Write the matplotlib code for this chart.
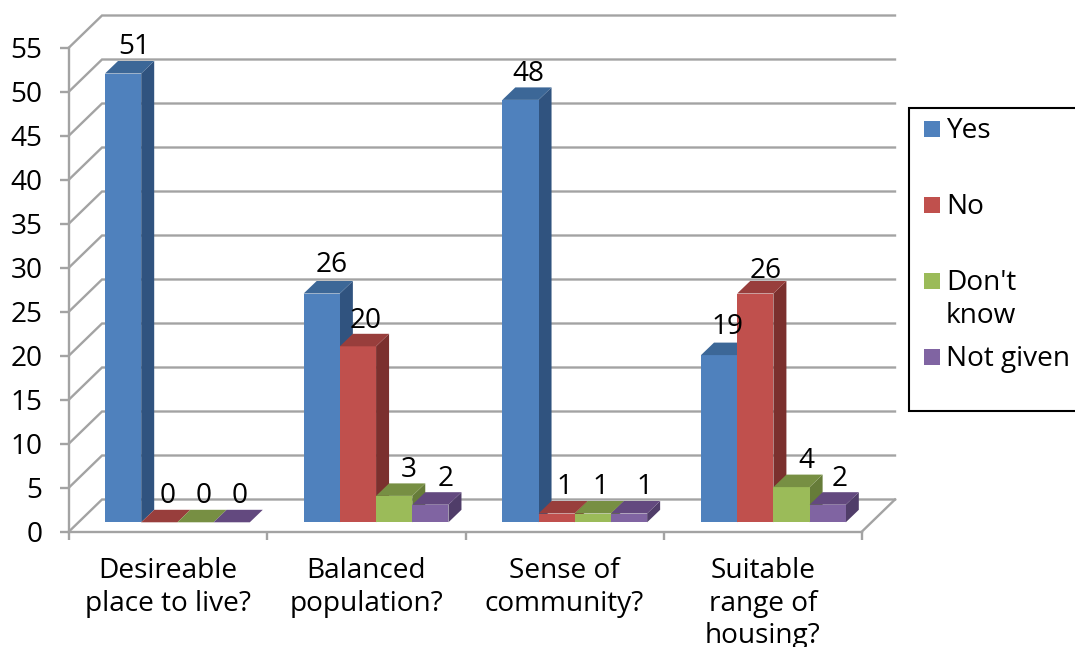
import matplotlib
matplotlib.use("Agg")
import matplotlib.pyplot as plt
from matplotlib.patches import Polygon, Rectangle

categories = ["Desireable\nplace to live?", "Balanced\npopulation?", "Sense of\ncommunity?", "Suitable\nrange of\nhousing?"]
series_names = ["Yes", "No", "Don't\nknow", "Not given"]
yes = [51, 26, 48, 19]
no = [0, 20, 1, 26]
dont_know = [0, 3, 1, 4]
not_given = [0, 2, 1, 2]
y_ticks = list(range(0, 60, 5))

front_colors = ["#4F81BD", "#C0504D", "#9BBB59", "#8064A2"]
top_colors = ["#3C6797", "#983E3C", "#778F43", "#63497F"]
side_colors = ["#30537F", "#7B302E", "#667C39", "#503D69"]
grid = "#A3A3A3"
FS = 20.2
plt.rcParams["font.family"] = ["Open Sans", "DejaVu Sans"]

# per-label pixel nudges of the value labels (group, series)
nudge_x = [[3, 0, 0, 0], [2, 0, 7, 7], [0, 0, 0, 7], [0, 2, 7, 4]]
nudge_y = [[0, 0, 0, 0], [-3, 1, 0, 0], [0, 0, 0, 0], [-2, 3, 0, 0]]

W, H = 1075, 647
fig = plt.figure(figsize=(W / 100, H / 100), dpi=100)
L, R, T, B = 69, 862, 47.5, 531.5
ax = fig.add_axes([L / W, 1 - B / H, (R - L) / W, (B - T) / H])
ax.set_xlim(0, 4)
ax.set_ylim(0, 55)
px = 4 / (R - L)          # data units per horizontal pixel
py = 55 / (B - T)         # data units per vertical pixel
ax.patch.set_visible(False)
for s in ["top", "right"]:
    ax.spines[s].set_visible(False)
for s in ["left", "bottom"]:
    ax.spines[s].set_color(grid)
    ax.spines[s].set_linewidth(1.7)

# walls and floor
wx, wy = 33 * px, 32 * py
for v in y_ticks:
    ax.plot([0, wx, 4 + wx], [v, v + wy, v + wy], color=grid, lw=1.7,
            clip_on=False, zorder=1, solid_joinstyle="miter")
ax.plot([4, 4 + wx], [0, wy], color=grid, lw=1.7, clip_on=False, zorder=1)

ax.set_yticks(y_ticks)
ax.set_xticks(range(5))
ax.set_xticklabels([])
ax.tick_params(axis="y", length=6.5, width=1.7, color=grid, labelsize=FS, pad=12.5)
ax.tick_params(axis="x", length=6, width=1.7, color=grid)
for i, c in enumerate(categories):
    ax.annotate(c, (i + 0.5, 0), xytext=(0, -18.5), textcoords="offset points",
                ha="center", va="top", fontsize=FS, linespacing=1.22,
                annotation_clip=False, clip_on=False)

# pseudo-3D bars
series = [yes, no, dont_know, not_given]
bw = 36.2 * px
start = 36 * px
stride = 198.67 * px
base = 9.2 * py
dx, dy = 13 * px, 12.5 * py
for i in range(len(categories)):
    for j, vals in enumerate(series):
        v = vals[i]
        x0 = i * stride + start + j * bw
        x1 = x0 + bw
        y0, y1 = base, base + v
        z = 3 + 0.01 * (4 * i + j)
        if v > 0:
            ax.add_patch(Polygon([(x1, y0), (x1 + dx, y0 + dy), (x1 + dx, y1 + dy), (x1, y1)],
                                 fc=side_colors[j], ec="none", zorder=z, clip_on=False))
            ax.add_patch(Rectangle((x0, y0), bw, v, fc=front_colors[j], ec="none",
                                   zorder=z, clip_on=False))
        ax.add_patch(Polygon([(x0, y1), (x1, y1), (x1 + dx, y1 + dy), (x0 + dx, y1 + dy)],
                             fc=top_colors[j], ec="none", zorder=z, clip_on=False))
        ax.text(x0 + bw / 2 + (8 + nudge_x[i][j]) * px,
                y1 + dy + (13.5 - nudge_y[i][j]) * py, str(v), ha="center", va="center",
                fontsize=FS, zorder=6, clip_on=False)

# legend
ov = fig.add_axes([0, 0, 1, 1])
ov.set_xlim(0, W)
ov.set_ylim(H, 0)
ov.axis("off")
ov.patch.set_visible(False)
ov.plot([W + 5, 909, 909, W + 5], [108, 108, 411, 411], color="black", lw=1.5,
        solid_joinstyle="miter")
ly = [129, 205, 281, 357]
for name, col, y in zip(series_names, front_colors, ly):
    ov.add_patch(Rectangle((924, y - 8), 16, 16, fc=col, ec="none"))
    ov.text(946, y - 12, name, fontsize=FS, va="top", ha="left", linespacing=1.22)

fig.savefig("out.png", dpi=100, facecolor="white")
